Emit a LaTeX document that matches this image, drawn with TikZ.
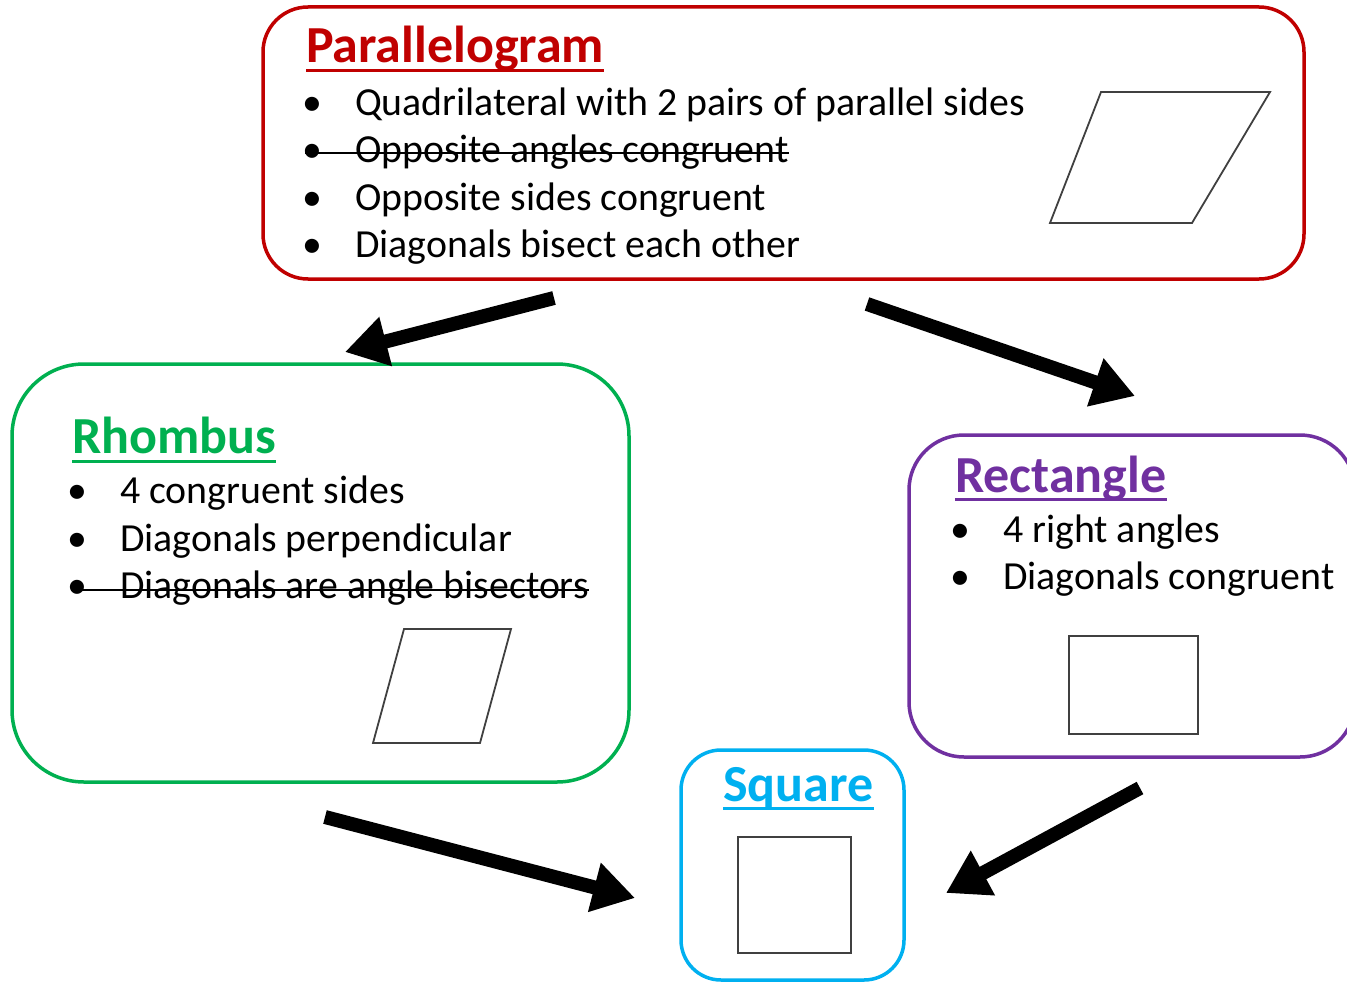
\documentclass[tikz,border=0pt]{standalone}
\usepackage{fontspec}
\setmainfont{Carlito}
\usetikzlibrary{arrows.meta}
\definecolor{pred}{HTML}{C00000}
\definecolor{rgreen}{HTML}{00B050}
\definecolor{rpurple}{HTML}{7030A0}
\definecolor{sblue}{HTML}{00B0F0}
\definecolor{shapegray}{HTML}{404040}
\tikzset{
 box/.style={draw, line width=3.5pt, rounded corners=#1, inner sep=0pt},
 title/.style={anchor=base west, inner sep=0pt, font=\fontsize{52}{62}\selectfont\bfseries},
 item/.style={anchor=base west, inner sep=0pt, font=\fontsize{39.8}{48}\selectfont},
 bul/.style={anchor=base, inner sep=0pt, font=\fontsize{39.8}{48}\selectfont},
 fig/.style={draw=shapegray, line width=1.8pt, line join=miter},
 bigarrow/.style={line width=14pt, -{Triangle[length=42pt,width=48pt]}},
 uline/.style={line width=3pt},
 strike/.style={line width=2.2pt},
}
\begin{document}
\begin{tikzpicture}[x=1pt,y=-1pt]
\path[use as bounding box] (0,0) rectangle (1347,982);
\clip (0,0) rectangle (1347,982);
\fill[white] (0,0) rectangle (1347,982);

% ---------- boxes
\node[box=45pt, draw=pred, minimum width=1041pt, minimum height=272pt] (para) at (783.5,143) {};
\node[box=72pt, draw=rgreen, minimum width=617pt, minimum height=418pt] (rhom) at (320.5,573) {};
\node[box=55pt, draw=rpurple, minimum width=446pt, minimum height=322pt] (rect) at (1132,596) {};
\node[box=40pt, draw=sblue, minimum width=223pt, minimum height=230pt] (squa) at (792.5,865) {};

% ---------- Parallelogram
\node[title, text=pred] (ptitle) at (306,63) {Parallelogram};
\draw[uline, pred] ([yshift=-7.5pt]ptitle.base west) -- ([yshift=-7.5pt]ptitle.base east);
\node[bul] (pb1) at (312,115) {\textbullet};
\node[item] (pt1) at (355,115) {Quadrilateral with 2 pairs of parallel sides};
\node[bul] (pb2) at (312,162) {\textbullet};
\node[item] (pt2) at (355,162) {Opposite angles congruent};
\node[bul] (pb3) at (312,210) {\textbullet};
\node[item] (pt3) at (355,210) {Opposite sides congruent};
\node[bul] (pb4) at (312,257) {\textbullet};
\node[item] (pt4) at (355,257) {Diagonals bisect each other};
\draw[strike] ([xshift=-50pt,yshift=9pt]pt2.base west) -- ([yshift=9pt]pt2.base east);
\draw[fig] (1101,92) -- (1270,92) -- (1192,223) -- (1050,223) -- cycle;

% ---------- Rhombus
\node[title, text=rgreen] (rtitle) at (72,453) {Rhombus};
\draw[uline, rgreen] ([yshift=-8pt]rtitle.base west) -- ([yshift=-8pt]rtitle.base east);
\node[bul] (rb1) at (77,503) {\textbullet};
\node[item] (rt1) at (120,503) {4 congruent sides};
\node[bul] (rb2) at (77,551) {\textbullet};
\node[item] (rt2) at (120,551) {Diagonals perpendicular};
\node[bul] (rb3) at (77,598) {\textbullet};
\node[item] (rt3) at (120,598) {Diagonals are angle bisectors};
\draw[strike] ([xshift=-49pt,yshift=8pt]rt3.base west) -- ([yshift=8pt]rt3.base east);
\draw[fig] (404,629) -- (511,629) -- (480,743) -- (373,743) -- cycle;

% ---------- Rectangle
\node[title, text=rpurple] (ctitle) at (955,492) {Rectangle};
\draw[uline, rpurple] ([yshift=-7.5pt]ctitle.base west) -- ([yshift=-7.5pt]ctitle.base east);
\node[bul] (cb1) at (960,542) {\textbullet};
\node[item] (ct1) at (1003,542) {4 right angles};
\node[bul] (cb2) at (960,589) {\textbullet};
\node[item] (ct2) at (1003,589) {Diagonals congruent};
\draw[fig] (1069,636) rectangle (1198,734);

% ---------- Square
\node[title, text=sblue] (stitle) at (723,801) {Square};
\draw[uline, sblue] ([yshift=-7pt]stitle.base west) -- ([yshift=-7pt]stitle.base east);
\draw[fig] (738,837) rectangle (851,953);

% ---------- arrows
\coordinate (a1s) at (554,298);
\coordinate (a1e) at (345,352);
\coordinate (a2s) at (867,304);
\coordinate (a2e) at (1135,396);
\coordinate (a3s) at (325,817);
\coordinate (a3e) at (635,898);
\coordinate (a4s) at (1140,788);
\coordinate (a4e) at (946,893);
\draw[bigarrow] (a1s) -- (a1e);
\draw[bigarrow] (a2s) -- (a2e);
\draw[bigarrow] (a3s) -- (a3e);
\draw[bigarrow] (a4s) -- (a4e);
\end{tikzpicture}
\end{document}
